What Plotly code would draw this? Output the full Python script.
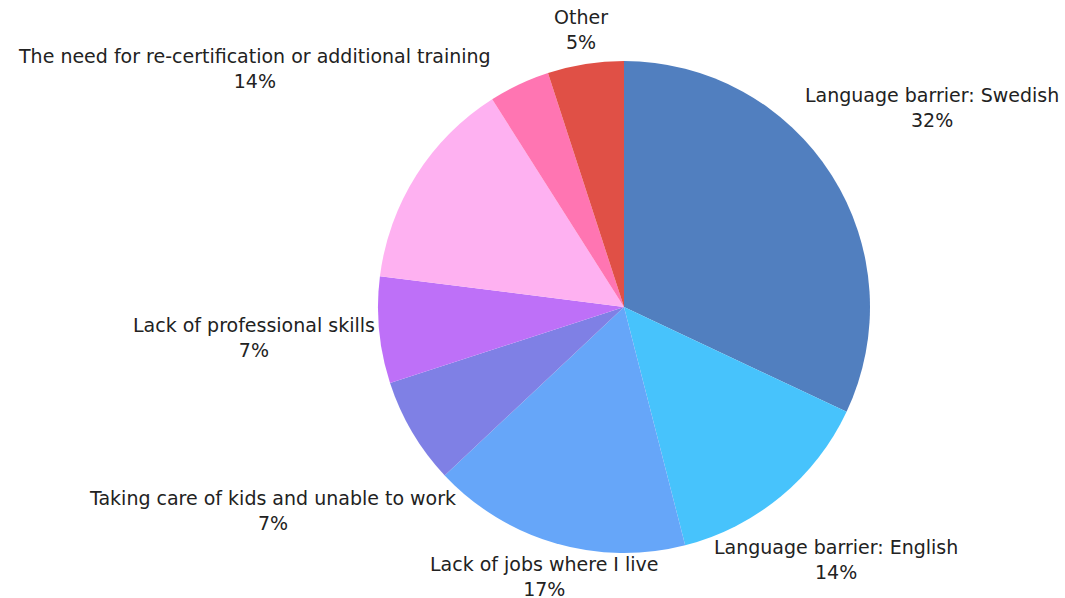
import math
import plotly.graph_objects as go

# Reasons for not working in one's profession (share of respondents, %)
labels = [
    "Language barrier: Swedish",
    "Language barrier: English",
    "Lack of jobs where I live",
    "Taking care of kids and unable to work",
    "Lack of professional skills",
    "The need for re-certification or additional training",
    "Discrimination",
    "Other",
]
values = [32, 14, 17, 7, 7, 14, 4, 5]
show_label = [True, True, True, True, True, True, False, True]
colors = ["#517FBF", "#47C3FC", "#66A6F9", "#7F80E5",
          "#BE70F8", "#FEB1F1", "#FF75B2", "#E05046"]

# Canvas and plot-area geometry
W, H = 1065, 598
M = dict(l=200, r=17, t=61, b=45)
FONT_FAMILY = "DejaVu Sans"
FONT_SIZE = 19
LINE_H = 1.3 * FONT_SIZE
LABEL_GAP = 3

plot_w = W - M["l"] - M["r"]
plot_h = H - M["t"] - M["b"]
radius = min(plot_w, plot_h) / 2
cx = M["l"] + plot_w / 2
cy = M["t"] + plot_h / 2

# Approximate DejaVu Sans advance widths (em units) for text measurement
_DV = {
    "a": .613, "b": .635, "c": .550, "d": .635, "e": .615, "f": .352, "g": .635,
    "h": .634, "i": .278, "j": .278, "k": .579, "l": .278, "m": .974, "n": .634,
    "o": .612, "p": .635, "q": .635, "r": .411, "s": .521, "t": .392, "u": .634,
    "v": .592, "w": .818, "x": .592, "y": .592, "z": .525, " ": .318, ":": .337,
    "-": .361, "%": .950, "T": .611, "L": .557, "S": .635, "E": .632, "O": .787,
    "I": .295,
}


def _measure_factory():
    try:
        from PIL import ImageFont
        font = ImageFont.truetype("DejaVuSans.ttf", FONT_SIZE)
        return lambda s: font.getlength(s)
    except Exception:
        return lambda s: sum(_DV.get(ch, .636 if ch.isdigit() else .6) for ch in s) * FONT_SIZE


text_width = _measure_factory()


def box_distance(d, ux, uy, bw, bh):
    """Distance from pie centre to the nearest point of a box centred at d*u."""
    bx, by = d * ux, d * uy
    nx = min(max(0.0, bx - bw / 2), bx + bw / 2)
    ny = min(max(0.0, by - bh / 2), by + bh / 2)
    return math.hypot(nx, ny)


total = sum(values)
annotations = []
cum = 0.0
for lab, v, show in zip(labels, values, show_label):
    mid = 2 * math.pi * (cum + v / 2) / total
    cum += v
    if not show:
        continue
    lines = [lab, f"{v}%"]
    bw = max(text_width(s) for s in lines)
    bh = len(lines) * LINE_H
    ux, uy = math.sin(mid), -math.cos(mid)
    lo, hi = 0.0, radius * 4
    for _ in range(60):
        m = (lo + hi) / 2
        if box_distance(m, ux, uy, bw, bh) < radius + LABEL_GAP:
            lo = m
        else:
            hi = m
    px, py = cx + hi * ux, cy + hi * uy
    annotations.append(dict(
        text="<br>".join(lines),
        x=(px - M["l"]) / plot_w,
        y=1 - (py - M["t"]) / plot_h,
        xref="paper", yref="paper",
        xanchor="center", yanchor="middle",
        yshift=4,
        borderpad=0,
        showarrow=False,
        align="center",
        font=dict(family=FONT_FAMILY, size=FONT_SIZE, color="#222222"),
    ))

fig = go.Figure(go.Pie(
    labels=labels,
    values=values,
    textinfo="none",
    sort=False,
    direction="clockwise",
    rotation=0,
    marker=dict(colors=colors, line=dict(width=0)),
    showlegend=False,
    hovertemplate="%{label}: %{value}%<extra></extra>",
))

fig.update_layout(
    width=W,
    height=H,
    margin=M,
    paper_bgcolor="white",
    plot_bgcolor="white",
    annotations=annotations,
)

fig.write_html("out.html")
